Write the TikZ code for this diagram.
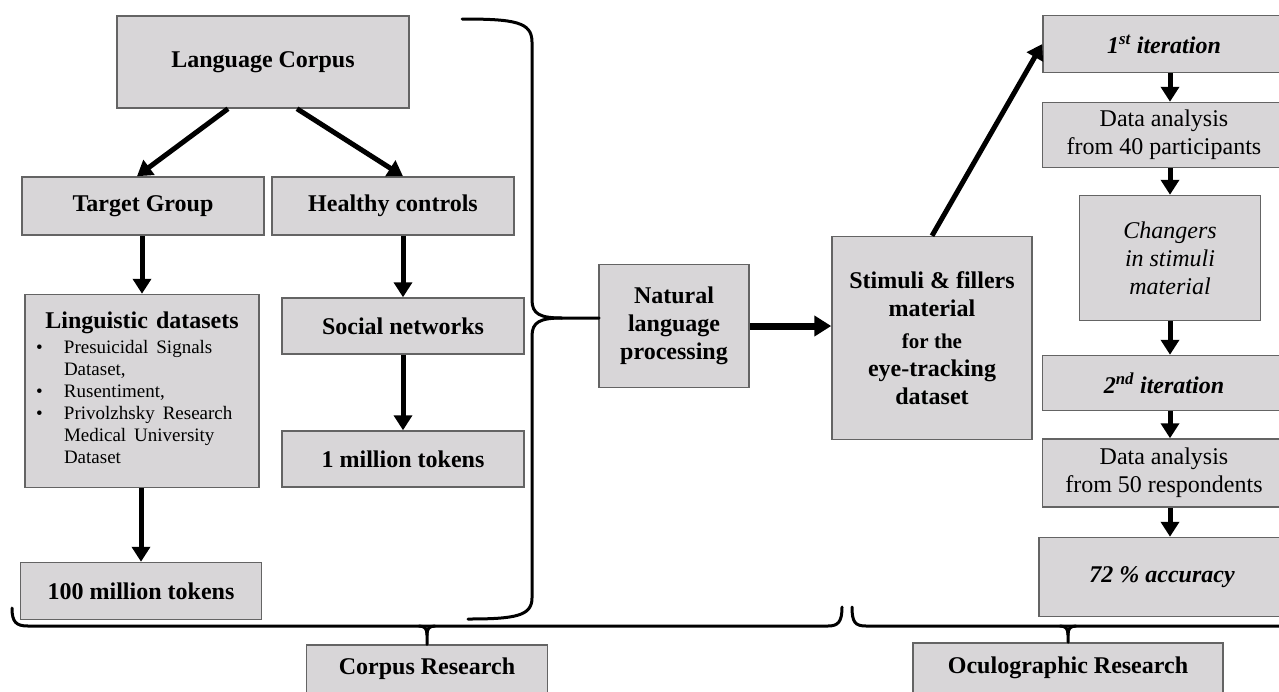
\documentclass[tikz,border=0pt]{standalone}
\usepackage{fontspec}
\setmainfont{Liberation Serif}
\usepackage{xcolor}
\usepackage{tikz}
\usetikzlibrary{positioning, arrows.meta}
\definecolor{boxgray}{RGB}{216,214,216}
\definecolor{edgegray}{RGB}{100,100,100}

\tikzset{
    box/.style={fill=boxgray, draw=edgegray, line width=1.5pt, inner sep=3pt,
                align=center, font=\fontsize{24}{28}\selectfont},
    boldbox/.style={box, font=\bfseries\fontsize{24}{28}\selectfont},
    itbox/.style={box, font=\bfseries\itshape\fontsize{24}{28}\selectfont},
    flow/.style={line width=5pt, -{Triangle[width=18pt,length=15pt]}},
    brace/.style={line width=3pt, line cap=round}
}

\begin{document}
\begin{tikzpicture}[x=1pt, y=-1pt]
    \useasboundingbox (0,0) rectangle (1279,691);
    \clip (0,0) rectangle (1279,691);

    % corpus side
    \node[boldbox, minimum width=292pt, minimum height=92pt] (lang) at (263,62) {Language Corpus};
    \node[boldbox, minimum width=242pt, minimum height=58pt] (target) at (143,206) {Target Group};
    \node[boldbox, minimum width=242pt, minimum height=58pt] (healthy) at (393,206) {Healthy controls};
    \node[box, text width=228pt, minimum height=193pt, align=left] (lingdata) at (142,391) {%
      \centerline{\bfseries Linguistic datasets}\par\vspace{3pt}
      \fontsize{19}{22}\selectfont
      \hspace*{8pt}\begin{tabular}{@{}p{28pt}@{}l@{}}
        \textbullet & Presuicidal Signals\\
                    & Dataset,\\
        \textbullet & Rusentiment,\\
        \textbullet & Privolzhsky Research\\
                    & Medical University\\
                    & Dataset
      \end{tabular}};
    \node[boldbox, minimum width=242pt, minimum height=56pt] (social) at (403,326) {Social networks};
    \node[boldbox, minimum width=242pt, minimum height=56pt] (onemil) at (403,459) {1 million tokens};
    \node[boldbox, minimum width=241pt, minimum height=57pt] (hundredmil) at (141,591) {100 million tokens};

    \draw[flow] ([xshift=-35pt]lang.south) -- ([xshift=-6pt]target.north);
    \draw[flow] ([xshift=34pt]lang.south) -- ([xshift=10pt]healthy.north);
    \draw[flow] (target.south -| lingdata) -- (lingdata.north);
    \draw[flow] (social.north |- healthy.south) -- (social.north);
    \draw[flow] (social) -- (onemil);
    \draw[flow] (lingdata.south -| hundredmil) -- (hundredmil.north);

    % middle
    \node[boldbox, minimum width=150pt, minimum height=123pt] (nlp) at (674,326) {Natural\\language\\processing};
    \node[boldbox, minimum width=200pt, minimum height=203pt] (stimuli) at (932,338) {%
      Stimuli \& fillers\\material\\[4pt]
      \fontsize{21}{25}\selectfont for the\\eye-tracking\\dataset};
    \coordinate (tip) at (599,318);
    \draw[brace] (462,19) .. controls (515,19) and (532,22) .. (532,42)
      -- (532,300) .. controls (532,314) and (540,318) .. (562,318) -- (tip);
    \draw[brace] (562,318) .. controls (540,318) and (532,322) .. (532,336)
      -- (532,598) .. controls (532,616) and (515,619) .. (468,619);
    \draw[flow, line width=7pt, -{Triangle[width=20pt,length=17pt]}] (nlp.east) -- (nlp.east -| stimuli.west);

    % oculographic side
    \node[itbox, minimum width=242pt, minimum height=57pt] (iter1) at (1164,44) {1\textsuperscript{st} iteration};
    \node[box, minimum width=243pt, minimum height=65pt] (data40) at (1164,135) {Data analysis\\from 40 participants};
    \node[box, font=\itshape\fontsize{24}{28}\selectfont, minimum width=181pt, minimum height=125pt] (changers) at (1170,258) {Changers\\in stimuli\\material};
    \node[itbox, minimum width=243pt, minimum height=55pt] (iter2) at (1164,383) {2\textsuperscript{nd} iteration};
    \node[box, minimum width=243pt, minimum height=68pt] (data50) at (1164,473) {Data analysis\\from 50 respondents};
    \node[itbox, minimum width=246pt, minimum height=79pt] (acc) at (1162,577) {72 \% accuracy};

    \draw[flow] (stimuli.north) -- (iter1.west);
    \draw[flow] (iter1.south -| changers) -- (data40.north -| changers);
    \draw[flow] (data40.south -| changers) -- (changers.north);
    \draw[flow] (changers.south) -- (iter2.north -| changers);
    \draw[flow] (iter2.south -| changers) -- (data50.north -| changers);
    \draw[flow] (data50.south -| changers) -- (acc.north -| changers);

    % bottom braces
    \node[boldbox, minimum width=241pt, minimum height=48pt] (corpus) at (427,669) {Corpus Research};
    \node[boldbox, minimum width=310pt, minimum height=50pt] (ocular) at (1068,668) {Oculographic Research};
    \draw[brace] (12,608) .. controls (12,622) and (16,626) .. (28,626) -- (828,626)
      .. controls (838,626) and (842,622) .. (842,607);
    \draw[brace] (852,607) .. controls (852,622) and (855,626) .. (866,626) -- (1290,626);
    \draw[brace] (419,626) .. controls (425,626) and (427,629) .. (427,635) -- (corpus.north);
    \draw[brace] (435,626) .. controls (429,626) and (427,629) .. (427,635);
    \draw[brace] (1060,626) .. controls (1066,626) and (1068,629) .. (1068,635) -- (ocular.north);
    \draw[brace] (1076,626) .. controls (1070,626) and (1068,629) .. (1068,635);
\end{tikzpicture}
\end{document}
